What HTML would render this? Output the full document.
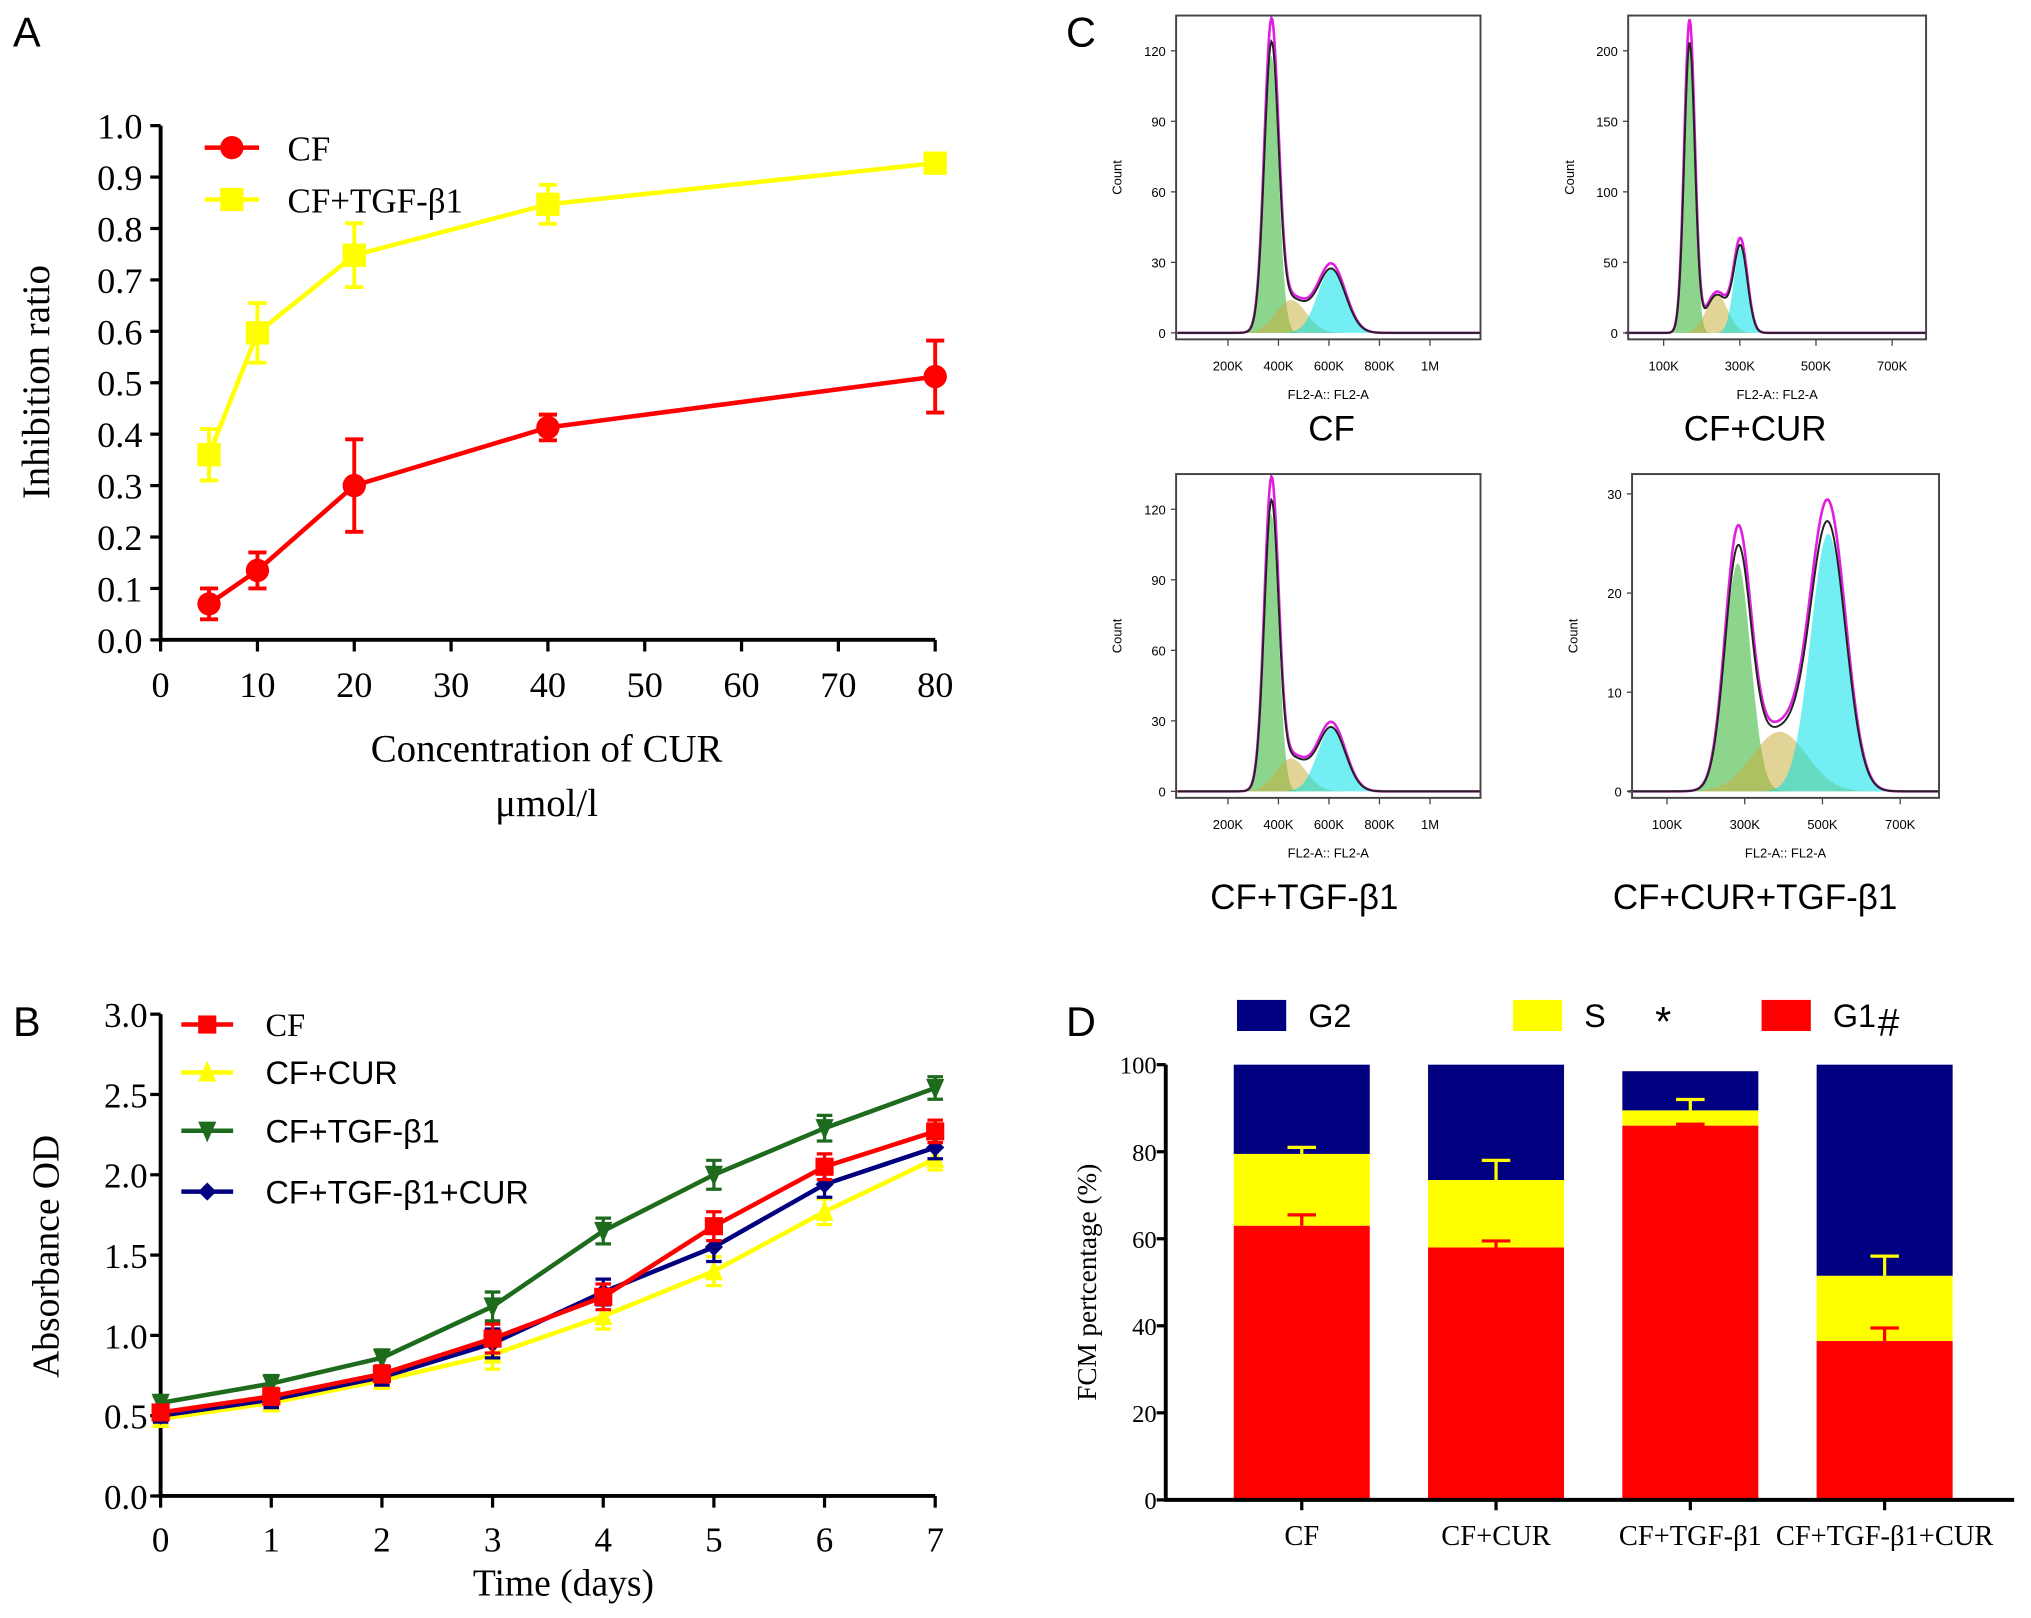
<!DOCTYPE html>
<html><head><meta charset="utf-8"><style>
html,body{margin:0;padding:0;background:#fff;}
svg{display:block;}
.serif{font-family:"Liberation Serif",serif;}
.sans{font-family:"Liberation Sans",sans-serif;}
</style></head><body>
<svg id="fig" width="2031" height="1618" viewBox="0 0 1568 1249.2" preserveAspectRatio="none" xmlns="http://www.w3.org/2000/svg">
<text x="10" y="36" class="sans" font-size="32">A</text>
<text x="10" y="800" class="sans" font-size="32">B</text>
<text x="823" y="36" class="sans" font-size="32">C</text>
<text x="823" y="800" class="sans" font-size="32">D</text>
</svg>
<script>
// ---------- Panel A data ----------
const aConc=[5,10,20,40,80];
const aCF=[0.07,0.135,0.30,0.413,0.512];
const aCFerr=[0.03,0.035,0.09,0.025,0.07];
const aTGF=[0.36,0.597,0.748,0.847,0.927];
const aTGFerr=[0.05,0.058,0.062,0.038,0.01];
const aXTicks=[0,10,20,30,40,50,60,70,80];
const aYTicks=[0,0.1,0.2,0.3,0.4,0.5,0.6,0.7,0.8,0.9,1.0];
// ---------- Panel B data ----------
const bDays=[0,1,2,3,4,5,6,7];
const bCF=[0.52,0.62,0.76,0.98,1.24,1.68,2.05,2.27];
const bCUR=[0.48,0.58,0.72,0.88,1.12,1.40,1.77,2.10];
const bTGF=[0.58,0.70,0.86,1.18,1.65,2.00,2.29,2.54];
const bTGFCUR=[0.50,0.60,0.74,0.95,1.27,1.55,1.94,2.17];
const bErr=[0.04,0.05,0.05,0.09,0.08,0.09,0.08,0.07];
const bYTicks=[0,0.5,1.0,1.5,2.0,2.5,3.0];
// ---------- Panel D data ----------
const dCats=["CF","CF+CUR","CF+TGF-β1","CF+TGF-β1+CUR"];
const dG1=[63,58,86,36.5];
const dS=[16.5,15.5,3.5,15];
const dG2=[20.5,26.5,9,48.5];
const dG1err=[2.5,1.5,0.3,3];
const dSerr=[1.5,4.5,2.5,4.5];
const dYTicks=[0,20,40,60,80,100];
// ---------- Panel C data (peak mean K, height, sd K) ----------
const cNames=["CF","CF+CUR","CF+TGF-β1","CF+CUR+TGF-β1"];
const cG1=[[372,118,28],[168,205,14],[372,118,28],[282,23,33]];
const cS=[[450,14,60],[240,27,28],[450,14,60],[390,6,70]];
const cG2=[[610,27,55],[302,60,18],[610,27,55],[515,26,45]];
const cXTicks=[[200,400,600,800,1000],[100,300,500,700],[200,400,600,800,1000],[100,300,500,700]];
const cYTicks=[[0,30,60,90,120],[0,50,100,150,200],[0,30,60,90,120],[0,10,20,30]];

const NS="http://www.w3.org/2000/svg";
const svg=document.getElementById('fig');
function mk(tag,attrs,parent){const e=document.createElementNS(NS,tag);for(const k in attrs)e.setAttribute(k,attrs[k]);(parent||svg).appendChild(e);return e;}
function txt(x,y,s,size,cls,anchor,parent){const t=mk('text',{x:x,y:y,'font-size':size,class:cls,'text-anchor':anchor||'start'},parent);t.textContent=s;return t;}

// ===== Panel A =====
const xA=v=>124+v*7.475, yA=v=>494-v*397;
let gA=mk('g',{});


let ax=mk('path',{d:`M124 ${yA(1)} V494 H${xA(80)}`,stroke:'#000','stroke-width':3,fill:'none'},gA);


aYTicks.forEach(v=>{mk('line',{x1:116,x2:124,y1:yA(v),y2:yA(v),stroke:'#000','stroke-width':2.5},gA);
 let t=txt(110,yA(v)+10,v.toFixed(1),28,'serif','end',gA);
 
 });
aXTicks.forEach(v=>{mk('line',{x1:xA(v),x2:xA(v),y1:494,y2:503,stroke:'#000','stroke-width':2.5},gA);
 let t=txt(xA(v),538,String(v),28,'serif','middle',gA);
 
 });
function seriesA(vals,errs,color,shape,name){
 let g=mk('g',{},gA);
 
 
 mk('polyline',{points:aConc.map((c,i)=>xA(c)+','+yA(vals[i])).join(' '),stroke:color,'stroke-width':3.5,fill:'none'},g);
 aConc.forEach((c,i)=>{const x=xA(c),y1=yA(vals[i]+errs[i]),y2=yA(vals[i]-errs[i]);
  mk('path',{d:`M${x} ${y1}V${y2}M${x-7} ${y1}H${x+7}M${x-7} ${y2}H${x+7}`,stroke:color,'stroke-width':3,fill:'none'},g);
  let m=shape==='c'?mk('circle',{cx:x,cy:yA(vals[i]),r:9,fill:color},g):mk('rect',{x:x-9,y:yA(vals[i])-9,width:18,height:18,fill:color},g);
  
  });
}
seriesA(aTGF,aTGFerr,'#ffff00','s','series-cf-tgf');
seriesA(aCF,aCFerr,'#ff0000','c','series-cf');
mk('line',{x1:158,x2:200,y1:114,y2:114,stroke:'#ff0000','stroke-width':3.5},gA);
mk('circle',{cx:179,cy:114,r:9,fill:'#ff0000'},gA);
let la1=txt(222,124,'CF',27,'serif','start',gA);


mk('line',{x1:158,x2:200,y1:154,y2:154,stroke:'#ffff00','stroke-width':3.5},gA);
mk('rect',{x:170,y:145,width:18,height:18,fill:'#ffff00'},gA);
let la2=txt(222,164,'CF+TGF-β1',27,'serif','start',gA);


let ya=txt(0,0,'Inhibition ratio',30,'serif','middle',gA);
ya.setAttribute('transform','translate(38,295) rotate(-90)');


let xa1=txt(422,588,'Concentration of CUR',30,'serif','middle',gA);


let xa2=txt(422,630,'μmol/l',30,'serif','middle',gA);



// ===== Panel B =====
const xB=d=>124+d*85.43, yB=v=>1155-v*124;
let gB=mk('g',{});


let axb=mk('path',{d:`M124 ${yB(3)} V1155 H${xB(7)}`,stroke:'#000','stroke-width':3,fill:'none'},gB);


bYTicks.forEach(v=>{mk('line',{x1:116,x2:124,y1:yB(v),y2:yB(v),stroke:'#000','stroke-width':2.5},gB);
 let t=txt(114,yB(v)+10,v.toFixed(1),27,'serif','end',gB);
 
 });
bDays.forEach(d=>{mk('line',{x1:xB(d),x2:xB(d),y1:1155,y2:1164,stroke:'#000','stroke-width':2.5},gB);
 let t=txt(xB(d),1198,String(d),27,'serif','middle',gB);
 
 });
function marker(g,x,y,shape,color,s){
 if(shape==='sq')return mk('rect',{x:x-s,y:y-s,width:2*s,height:2*s,fill:color},g);
 if(shape==='up')return mk('polygon',{points:`${x},${y-s-2} ${x-s},${y+s} ${x+s},${y+s}`,fill:color},g);
 if(shape==='dn')return mk('polygon',{points:`${x},${y+s+2} ${x-s},${y-s} ${x+s},${y-s}`,fill:color},g);
 return mk('polygon',{points:`${x},${y-s} ${x+s},${y} ${x},${y+s} ${x-s},${y}`,fill:color},g);
}
function seriesB(vals,color,shape,name){
 let g=mk('g',{},gB);
 
 
 mk('polyline',{points:bDays.map((d,i)=>xB(d)+','+yB(vals[i])).join(' '),stroke:color,'stroke-width':3.5,fill:'none'},g);
 bDays.forEach((d,i)=>{const x=xB(d),y1=yB(vals[i]+bErr[i]),y2=yB(vals[i]-bErr[i]);
  mk('path',{d:`M${x} ${y1}V${y2}M${x-6} ${y1}H${x+6}M${x-6} ${y2}H${x+6}`,stroke:color,'stroke-width':2.5,fill:'none'},g);
  let m=marker(g,x,yB(vals[i]),shape,color,7);
  
  });
}
seriesB(bCUR,'#ffff00','up','series-cf-cur');
seriesB(bTGF,'#1e6b1e','dn','series-cf-tgf');
seriesB(bTGFCUR,'#000080','di','series-cf-tgf-cur');
seriesB(bCF,'#ff0000','sq','series-cf');
const bLeg=[['CF','#ff0000','sq',791],['CF+CUR','#ffff00','up',828],['CF+TGF-β1','#1e6b1e','dn',873],['CF+TGF-β1+CUR','#000080','di',920]];
bLeg.forEach(l=>{mk('line',{x1:140,x2:180,y1:l[3],y2:l[3],stroke:l[1],'stroke-width':3.5},gB);
 marker(gB,160,l[3],l[2],l[1],7);
 let t=txt(205,l[3]+9,l[0],25,l[0]==='CF'?'serif':'sans','start',gB);
 
 });
let yb=txt(0,0,'Absorbance OD',29,'serif','middle',gB);
yb.setAttribute('transform','translate(45,970) rotate(-90)');


let xb=txt(435,1232,'Time (days)',29,'serif','middle',gB);



// ===== Panel D =====
const yD=v=>1158-v*3.36, xD=i=>1005+i*150, bw=105;
let gD=mk('g',{});


dCats.forEach((c,i)=>{const x=xD(i)-bw/2;
 const g1top=dG1[i], stop=dG1[i]+dS[i], g2top=stop+dG2[i];
 let r1=mk('rect',{x:x,y:yD(g1top),width:bw,height:yD(0)-yD(g1top),fill:'#ff0000'},gD);
 
 
 let r2=mk('rect',{x:x,y:yD(stop),width:bw,height:yD(g1top)-yD(stop),fill:'#ffff00'},gD);
 
 
 let r3=mk('rect',{x:x,y:yD(g2top),width:bw,height:yD(stop)-yD(g2top),fill:'#000080'},gD);
 
 
 const cx=xD(i);
 mk('path',{d:`M${cx} ${yD(g1top)}V${yD(g1top+dG1err[i])}M${cx-11} ${yD(g1top+dG1err[i])}H${cx+11}`,stroke:'#ff0000','stroke-width':2.5,fill:'none'},gD);
 mk('path',{d:`M${cx} ${yD(stop)}V${yD(stop+dSerr[i])}M${cx-11} ${yD(stop+dSerr[i])}H${cx+11}`,stroke:'#ffff00','stroke-width':2.5,fill:'none'},gD);
 mk('line',{x1:cx,x2:cx,y1:1158,y2:1166,stroke:'#000','stroke-width':2.5},gD);
 let t=txt(cx,1193,c,22,'serif','middle',gD);
 
 
});
let axd=mk('path',{d:`M900 ${yD(100)} V1158 H1555`,stroke:'#000','stroke-width':3,fill:'none'},gD);


dYTicks.forEach(v=>{mk('line',{x1:893,x2:900,y1:yD(v),y2:yD(v),stroke:'#000','stroke-width':2.5},gD);
 let t=txt(893,yD(v)+7,String(v),19,'serif','end',gD);
 
 });
let yd=txt(0,0,'FCM pertcentage (%)',21,'serif','middle',gD);
yd.setAttribute('transform','translate(846,990) rotate(-90)');


const dLeg=[['G2','#000080',955],['S','#ffff00',1168],['G1','#ff0000',1360]];
dLeg.forEach(l=>{let r=mk('rect',{x:l[2],y:772,width:38,height:24,fill:l[1]},gD);
 
 
 let t=txt(l[2]+55,793,l[0],25,'sans','start',gD);
 
 });
let st=txt(1284,800,'*',32,'sans','middle',gD);


let hs=txt(1458,800,'#',30,'sans','middle',gD);



// ===== Panel C =====
const cBox=[[908,12,1143,262],[1257,12,1487,262],[908,366,1143,616],[1260,366,1497,616]];
const cScaleX=[19.5,29.4,19.5,30], cX0=[909,1255,909,1257], cYmax=[135,225,135,32];
const cLab=[[1028,340],[1355,340],[1007,702],[1355,702]];
function gauss(p,k){return p[1]*Math.exp(-0.5*Math.pow((k-p[0])/p[2],2));}
cNames.forEach((nm,i)=>{
 const [L,T,R,B]=cBox[i];
 let g=mk('g',{});
 
 
 const base=B-5, sx=k=>cX0[i]+k*cScaleX[i]/100, sy=v=>base-v*(base-T)/cYmax[i];
 const kmax=(R-cX0[i])*100/cScaleX[i];
 function area(p,color){let d=`M${sx(p[0]-4*p[2])} ${base}`;for(let k=p[0]-4*p[2];k<=p[0]+4*p[2];k+=p[2]/10)d+=`L${sx(k)} ${sy(gauss(p,k))}`;d+=`L${sx(p[0]+4*p[2])} ${base}Z`;mk('path',{d:d,fill:color,'fill-opacity':0.55,stroke:'none'},g);}
 area(cG1[i],'#2fb02f');area(cS[i],'#c8b040');area(cG2[i],'#00e0e8');
 let dt='',dm='';
 for(let k=0;k<=kmax;k+=kmax/300){const v=gauss(cG1[i],k)+gauss(cS[i],k)+gauss(cG2[i],k);
  dm+=(dt?'L':'M')+sx(k)+' '+sy(v*1.08);dt+=(dt?'L':'M')+sx(k)+' '+sy(v);}
 mk('path',{d:dm,fill:'none',stroke:'#e020e0','stroke-width':2},g);
 mk('path',{d:dt,fill:'none',stroke:'#222','stroke-width':1.5},g);
 mk('rect',{x:L,y:T,width:R-L,height:B-T,fill:'none',stroke:'#444','stroke-width':1.5},g);
 cYTicks[i].forEach(v=>{mk('line',{x1:L-4,x2:L,y1:sy(v),y2:sy(v),stroke:'#444'},g);txt(L-8,sy(v)+4,String(v),10,'sans','end',g);});
 cXTicks[i].forEach(v=>{mk('line',{x1:sx(v),x2:sx(v),y1:B,y2:B+5,stroke:'#444'},g);txt(sx(v),B+24,v>=1000?'1M':v+'K',10,'sans','middle',g);});
 txt((L+R)/2,B+46,'FL2-A:: FL2-A',10,'sans','middle',g);
 let c=txt(0,0,'Count',10,'sans','middle',g);c.setAttribute('transform',`translate(${L-42},${(T+B)/2}) rotate(-90)`);
 let t=txt(cLab[i][0],cLab[i][1],nm,27,'sans','middle',g);
 
 
});
</script>
</body></html>
